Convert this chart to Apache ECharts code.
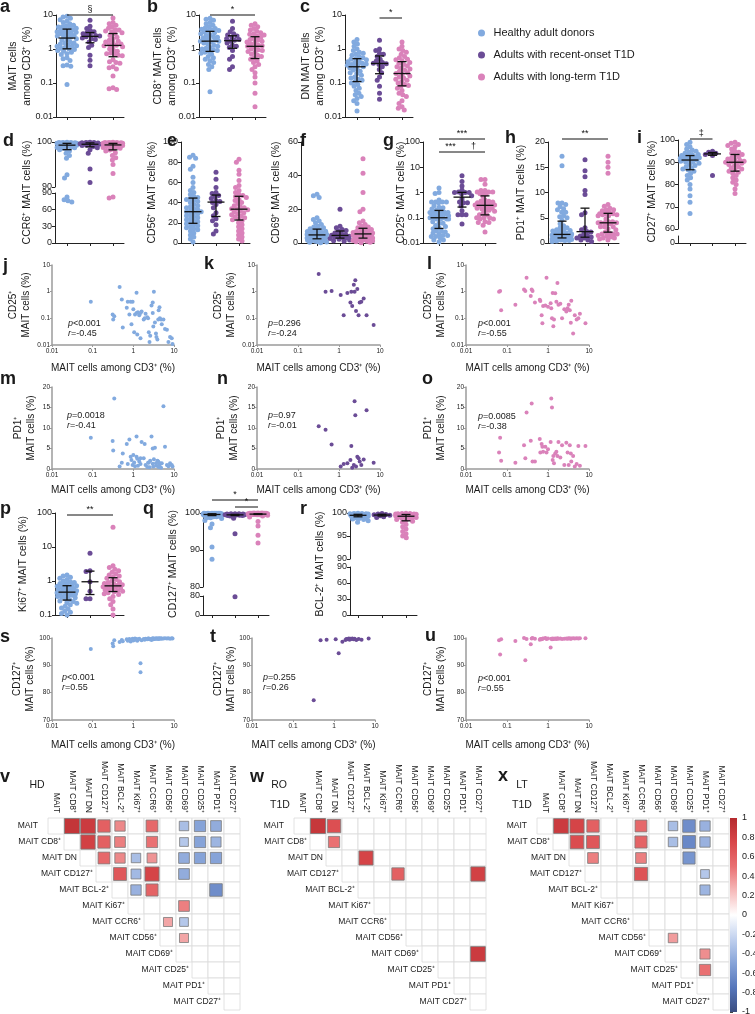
<!DOCTYPE html>
<html><head><meta charset="utf-8">
<script src="https://cdn.jsdelivr.net/npm/echarts@6/dist/echarts.min.js"></script>
<style>html,body{margin:0;padding:0;background:#fff}#c{width:755px;height:1014px}</style>
</head><body><div id="c"></div>
<script>
// ---------------- DATA ----------------
const groupNames = ['Healthy adult donors','Adults with recent-onset T1D','Adults with long-term T1D'];

// donors (aligned by index within each group)
const hdMait  = [0.09,0.31,0.32,0.34,0.46,0.52,0.55,0.69,0.73,0.80,0.86,0.90,0.96,1.0,1.05,1.1,1.2,1.2,1.25,1.3,1.4,1.5,1.5,2.5,1.6,2.3,1.8,1.9,2.0,2.2,2.4,2.6,2.8,3.0,3.0,3.1,3.2,3.4,3.6,3.7,3.9,4.1,4.2,4.4,4.5,4.8,5.0,5.5,6.0,6.7,7.3,8.0,8.8,9.2];
const hdCD25  = [0.42,0.14,0.09,0.12,1.5,0.51,0.045,0.25,0.42,0.14,0.42,0.06,0.42,0.22,0.03,0.14,0.92,0.16,0.025,0.17,0.13,0.16,0.018,0.013,0.18,0.10,0.09,0.10,0.15,0.11,0.03,0.022,0.30,0.39,0.16,0.049,1.0,0.07,0.027,0.02,0.016,0.09,0.20,0.26,0.10,0.09,0.06,0.09,0.04,0.037,0.013,0.02,0.018,0.011];
const hdPD1   = [7.6,6.8,4.5,17.2,0.6,1.5,3.8,6.1,1.2,7.2,3.0,2.2,1.0,3.4,1.6,0.7,7.9,3.0,2.5,0.8,1.8,2.6,1.2,0.4,6.6,1.5,2.6,6.1,1.0,0.5,1.6,2.0,7.9,5.0,1.3,0.6,2.4,5.2,1.4,0.8,2.0,1.8,0.5,1.0,1.4,0.3,1.4,15.3,5.4,1.0,0.7,1.4,1.0,0.6];
const hdCD127 = [96.0,98.0,97.0,99.2,98.5,99.3,98.8,99.5,99.0,99.6,98.7,99.4,99.7,99.1,99.5,99.8,99.3,99.6,99.0,99.4,99.7,90.8,87.5,99.5,99.2,99.8,99.6,99.4,99.7,99.5,99.8,99.6,99.3,99.7,99.9,99.5,99.8,99.6,99.9,99.7,99.8,99.6,99.9,99.7,99.8,99.9,99.7,99.8,99.9,99.8,99.9,99.7,99.9,99.8];

const roMait  = [0.32,0.47,0.66,1.1,1.3,1.6,1.9,2.0,2.1,2.3,2.4,2.5,2.6,2.8,3.0,3.2,3.5,4.0,4.7,7.0];
const roCD25  = [4.6,1.0,1.05,0.75,0.13,0.9,0.39,1.0,0.29,1.8,1.0,2.7,0.19,1.25,0.13,0.39,0.42,0.56,0.13,0.056];
const roPD1   = [10.4,9.6,6.0,0.6,1.2,1.4,2.2,5.6,0.3,1.0,16.5,13.1,0.6,3.0,2.6,1.8,1.0,2.3,14.3,1.5];
const roCD127 = [77.2,99.2,99.4,99.5,94.4,98.6,99.3,99.6,99.5,99.8,99.4,99.7,99.6,99.8,99.5,99.7,99.3,99.6,99.4,99.8];

const ltMait  = [0.064,0.068,0.072,0.16,0.26,0.28,0.30,0.38,0.40,0.42,0.48,0.63,0.65,0.70,0.73,0.76,0.86,0.92,1.0,1.16,1.2,1.25,1.3,1.35,1.4,1.5,1.6,1.7,1.8,2.0,2.2,2.5,2.8,3.0,3.2,3.4,3.6,3.7,4.1,4.5,5.0,5.5,6.0,8.2];
const ltCD25  = [1.0,1.05,0.20,0.32,1.2,1.05,3.3,0.69,1.2,1.05,0.39,0.50,0.45,0.13,0.065,0.29,0.3,3.3,0.27,0.37,0.24,0.1,0.9,0.05,0.09,0.87,0.42,2.1,0.32,0.35,0.1,0.22,0.18,0.24,0.32,0.2,0.069,0.46,0.027,0.13,0.09,0.1,0.15,0.065];
const ltPD1   = [4.0,7.6,2.0,1.5,5.8,2.6,13.8,6.9,16.0,1.8,1.8,7.3,4.0,6.1,5.4,4.2,5.4,4.0,4.8,6.6,17.2,15.0,2.2,3.2,1.4,3.8,4.2,3.2,6.6,2.8,5.8,1.0,6.4,4.0,1.0,5.8,3.8,1.8,3.2,0.6,1.2,5.6,0.8,5.6];
const ltCD127 = [99.2,94.0,99.5,98.9,100,91.9,99.6,97.7,99.8,100,99.7,99.4,99.6,99.5,99.7,99.8,100,99.6,99.8,96.5,99.7,99.5,99.8,99.6,99.7,99.8,99.6,99.9,99.7,99.8,99.6,99.7,99.8,99.7,99.9,99.8,99.7,99.8,99.9,99.8,99.9,99.8,99.9,99.9];

// other dot-plot panels
const hdCD8 = [8.0,7.5,7.0,6.0,5.5,5.0,4.5,4.2,4.0,3.8,3.6,3.5,3.3,3.2,3.0,2.8,2.6,2.5,2.3,2.2,2.1,2.0,1.9,1.8,1.7,1.7,1.6,1.5,1.4,1.3,1.2,1.1,1.05,1.0,0.95,0.9,0.85,0.8,0.75,0.7,0.6,0.55,0.5,0.45,0.4,0.35,0.3,0.25,0.055];
const roCD8 = [6.5,4.0,3.2,2.8,2.6,2.4,2.2,2.0,1.9,1.8,1.7,1.5,1.3,1.2,1.1,0.9,0.6,0.5,0.3,0.25];
const ltCD8 = [5.5,5.0,4.5,4.0,3.6,3.3,3.0,2.8,2.7,2.6,2.4,2.2,2.0,1.9,1.8,1.7,1.6,1.5,1.4,1.3,1.25,1.2,1.1,1.0,0.95,0.9,0.85,0.8,0.7,0.65,0.6,0.55,0.5,0.45,0.4,0.35,0.3,0.25,0.2,0.15,0.1,0.05,0.02];

const hdDN = [1.9,1.6,1.4,1.2,1.0,0.9,0.8,0.75,0.7,0.65,0.6,0.55,0.52,0.5,0.48,0.45,0.42,0.4,0.38,0.36,0.35,0.34,0.33,0.32,0.3,0.28,0.26,0.24,0.22,0.2,0.19,0.17,0.15,0.14,0.13,0.12,0.11,0.1,0.09,0.08,0.07,0.06,0.05,0.045,0.04,0.035,0.03,0.025,0.015];
const roDN = [1.8,1.0,0.9,0.75,0.7,0.6,0.5,0.45,0.4,0.38,0.37,0.35,0.3,0.25,0.2,0.15,0.12,0.08,0.05,0.033];
const ltDN = [1.6,1.2,1.0,0.9,0.8,0.7,0.6,0.55,0.5,0.48,0.45,0.4,0.38,0.35,0.32,0.3,0.28,0.26,0.24,0.22,0.2,0.19,0.18,0.16,0.15,0.14,0.13,0.12,0.11,0.1,0.09,0.085,0.08,0.07,0.06,0.05,0.045,0.04,0.03,0.025,0.02,0.018,0.016];

const hdCCR6 = [99.95,99.9,99.9,99.9,99.85,99.8,99.8,99.8,99.75,99.7,99.7,99.65,99.6,99.6,99.55,99.5,99.5,99.45,99.4,99.4,99.3,99.3,99.2,99.1,99.0,98.9,98.8,98.7,98.6,98.5,98.3,98.0,97.5,97.0,96.4,92.7,92.0,83.0,78.0,76.0,74.0];
const roCCR6 = [99.95,99.9,99.9,99.85,99.8,99.8,99.7,99.6,99.6,99.5,99.5,99.4,99.3,99.2,99.0,98.7,98.3,97.5,94.0,91.0];
const ltCCR6 = [99.95,99.9,99.9,99.9,99.85,99.85,99.8,99.8,99.75,99.7,99.7,99.65,99.6,99.6,99.55,99.5,99.5,99.4,99.4,99.3,99.3,99.2,99.1,99.0,98.9,98.8,98.6,98.4,98.2,98.0,97.6,97.0,96.5,96.0,95.0,93.0,83.0,81.0];

const hdCD56 = [87,85,84,76,73,65,60,55,52,50,48,46,45,44,43,42,41,40,38,37,36,35,34,33,32,31,31,30,29,28,27,26,25,24,23,22,21,20,19,18,17,16,15,14,13,12,10,8,6,4,1];
const roCD56 = [70,63,55,50,49,47,46,44,42,41,40,38,35,30,27,24,22,18,12,9];
const ltCD56 = [83,80,72,68,62,57,55,52,50,48,47,46,45,43,42,40,39,37,36,35,34,34,33,32,31,30,29,28,27,26,25,24,23,22,20,18,16,14,12,10,8,6,4,2];

const hdCD69 = [29,28,27,15,14,13,12,11,10,9.5,9,8.5,8,7.5,7,6.8,6.5,6.2,6,5.8,5.5,5.2,5,4.8,4.6,4.4,4.2,4,3.8,3.6,3.4,3.2,3,2.8,2.6,2.4,2.2,2,1.8,1.6,1.4,1.2,1,0.8,0.6,0.4,0.2];
const roCD69 = [20,10,9,8,7.5,7,6,5.5,5,4.6,4.4,4,3.6,3.2,3,2.6,2.2,1.8,1.4,1.0];
const ltCD69 = [50,41.5,30,20,18.5,13,12,11,10,9.5,9,8.5,8,7.5,7,6.8,6.5,6.2,6,5.8,5.6,5.4,5.2,5,4.8,4.5,4.2,4,3.8,3.5,3.2,3,2.8,2.5,2.2,2,1.8,1.5,1.2,1,0.8,0.5,0.2];

const hdCD27 = [99,98,97,96,95.5,95,94.5,94,93.5,93.5,93,93,92.5,92.5,92,92,91.8,91.5,91.5,91.2,91,91,90.5,90,90,89.5,89,88.5,88,87.5,87,86.5,86,85,84,83,82,80,78,75,72,67];
const roCD27 = [95,94.5,94,93.5,93,84];
const ltCD27 = [99,98.5,98,97.5,97,96,95,94.5,94,93.5,93,92.5,92,91.5,91,90.8,90.5,90.2,90,89.8,89.5,89,88.5,88,87.5,87,86.5,86,85.5,85,84,83,82,81,80,78,76];

const hdKi67 = [1.5,1.4,1.3,1.2,1.1,1.0,0.95,0.9,0.85,0.85,0.8,0.75,0.72,0.7,0.68,0.65,0.62,0.6,0.58,0.55,0.52,0.5,0.5,0.48,0.46,0.45,0.43,0.42,0.4,0.38,0.36,0.35,0.33,0.32,0.3,0.28,0.26,0.25,0.23,0.22,0.2,0.18,0.16,0.15,0.13,0.12,0.11,0.1];
const roKi67 = [6.5,2.0,1.9,0.95,0.5,0.3,0.3];
const ltKi67 = [38,2.8,2.5,2.2,2.0,1.8,1.6,1.5,1.4,1.3,1.2,1.1,1.0,0.95,0.9,0.85,0.8,0.78,0.75,0.72,0.7,0.68,0.65,0.62,0.6,0.58,0.55,0.52,0.5,0.48,0.45,0.42,0.4,0.35,0.3,0.25,0.2,0.15,0.1];

const hdBCL2 = [99.95,99.9,99.9,99.85,99.85,99.8,99.8,99.8,99.75,99.75,99.7,99.7,99.7,99.65,99.6,99.6,99.6,99.55,99.5,99.5,99.5,99.45,99.4,99.4,99.35,99.3,99.3,99.25,99.2,99.2,99.1,99.0,99.0,98.9,98.8,98.7,98.6,98.5,98.3,98.0];
const roBCL2 = [99.9,99.8,99.7,99.6,99.5,99.4,99.2,99.0];
const ltBCL2 = [99.95,99.9,99.9,99.85,99.8,99.8,99.75,99.7,99.7,99.65,99.6,99.6,99.5,99.5,99.45,99.4,99.4,99.3,99.3,99.2,99.1,99.0,98.9,98.8,98.6,98.4,98.2,98.0,97.5,97.0,96.5,96.0,95.5,95.0,94.6];

// correlation matrices: [row, col, r]
const corrLabels = ['MAIT','MAIT CD8⁺','MAIT DN','MAIT CD127⁺','MAIT BCL-2⁺','MAIT Ki67⁺','MAIT CCR6⁺','MAIT CD56⁺','MAIT CD69⁺','MAIT CD25⁺','MAIT PD1⁺','MAIT CD27⁺'];
const corrHD = [[0,1,0.9],[0,2,0.85],[0,3,0.6],[0,4,0.42],[0,6,0.55],[0,8,-0.35],[0,9,-0.5],[0,10,-0.45],
  [1,2,0.8],[1,3,0.6],[1,4,0.45],[1,6,0.5],[1,8,-0.3],[1,9,-0.5],[1,10,-0.4],
  [2,3,0.55],[2,4,0.42],[2,5,-0.35],[2,6,0.38],[2,8,-0.45],[2,9,-0.5],[2,10,-0.5],
  [3,4,0.65],[3,5,-0.38],[3,6,0.78],[3,8,-0.45],
  [4,5,-0.42],[4,6,0.58],[4,10,-0.62],
  [5,8,0.45],[6,7,0.32],[6,8,-0.3],[7,8,0.32]];
const corrRO = [[0,1,0.88],[0,2,0.7],[1,2,0.5],[2,4,0.78],[3,6,0.6],[3,11,0.8],[8,11,0.85]];
const corrLT = [[0,1,0.85],[0,2,0.78],[0,3,0.6],[0,6,0.55],[0,8,-0.35],[0,9,-0.62],[0,10,-0.42],
  [1,2,0.72],[1,3,0.65],[1,6,0.58],[1,8,-0.35],[1,9,-0.65],[1,10,-0.42],
  [2,3,0.45],[2,6,0.45],[2,9,-0.58],[3,6,0.68],[3,10,-0.3],[4,10,-0.4],
  [7,8,0.35],[8,10,0.4],[9,10,0.5]];

// ---------------- STYLE / LAYOUT ----------------
const FONT = "'Liberation Sans', Arial, Helvetica, sans-serif";
const TXT = '#1a1a1a';
const groupColors = ['#82aadf','#6b4c96','#da82ba'];
const corrColors = ['#3a4d80','#5676bb','#86a3d8','#c0d0ee','#ffffff','#f6baba','#e97072','#d9474a','#b52a2e'];
const DOT = 5, DOT_D = 4;

const grids=[], xAxes=[], yAxes=[], series=[], graphics=[];
function addGrid(rect, xa, ya){
  const gi = grids.length;
  grids.push({left:rect[0], top:rect[1], width:rect[2], height:rect[3], containLabel:false, outerBoundsMode:'none'});
  xAxes.push(Object.assign({gridIndex:gi, nameMoveOverlap:false}, xa));
  yAxes.push(Object.assign({gridIndex:gi, nameMoveOverlap:false}, ya));
  return gi;
}
function logFmt(v){ return String(+Number(v).toPrecision(3)); }
function quartiles(arr){
  const s=[...arr].sort((a,b)=>a-b);
  const q=p=>{const pos=(s.length-1)*p, lo=Math.floor(pos), hi=Math.ceil(pos); return s[lo]+(s[hi]-s[lo])*(pos-lo);};
  return [q(0.25), q(0.5), q(0.75)];
}
function swarm(ys, D, maxOff){
  const n=ys.length, order=ys.map((y,i)=>i).sort((a,b)=>ys[a]-ys[b]||a-b);
  const placed=[], off=new Array(n).fill(0);
  order.forEach(i=>{
    const y=ys[i];
    const near=placed.filter(p=>Math.abs(p.y-y)<D);
    const cands=[0];
    near.forEach(p=>{const dx=Math.sqrt(D*D-(p.y-y)*(p.y-y))+0.01; cands.push(p.x-dx,p.x+dx);});
    cands.sort((a,b)=>Math.abs(a)-Math.abs(b));
    let best=null;
    for(const c of cands){
      if(Math.abs(c)>maxOff) continue;
      if(near.every(p=>(p.x-c)*(p.x-c)+(p.y-y)*(p.y-y)>=D*D-0.02)){best=c;break;}
    }
    if(best===null){
      let bd=-1;
      for(let c=-maxOff;c<=maxOff+1e-9;c+=0.5){
        let md=Infinity; near.forEach(p=>{md=Math.min(md,Math.hypot(p.x-c,p.y-y));});
        if(md>bd){bd=md;best=c;}
      }
    }
    off[i]=best; placed.push({x:best,y:y});
  });
  return off;
}
function txt(text, x, y, o){
  o=o||{};
  graphics.push({type:'text', x:x, y:y, rotation:o.rot||0, silent:true, z:50,
    style:Object.assign({text:text, fill:TXT, font:(o.font||'10px '+FONT), align:o.align||'left', textAlign:o.align||'left',
      verticalAlign:o.va||'middle', textVerticalAlign:o.va||'middle'}, o.extra||{})});
}

// ---------- dot plot panels ----------
function dotPanel(P){
  const sp=P.sp, xmin=1-(P.g1-P.axisX)/sp, xmax=3+11/sp, width=(xmax-xmin)*sp;
  const segs = P.brk ? [
    {top:P.top, bottom:P.brk.topEnd, type:'value', min:P.brk.topMin, max:P.max, interval:P.interval, last:false},
    {top:P.brk.botStart, bottom:P.bottom, type:'value', min:0, max:P.brk.botMax, interval:P.brk.botInterval, last:true}
  ] : [{top:P.top, bottom:P.bottom, type:P.type, min:P.min, max:P.max, interval:P.interval, last:true}];
  segs.forEach(s=>{
    const ya={type:s.type, min:s.min, max:s.max,
      axisLine:{show:true, lineStyle:{color:'#222', width:1}},
      axisTick:{show:true, length:3, lineStyle:{color:'#222'}},
      axisLabel:{fontSize:9, color:TXT, margin:3, fontFamily:FONT, showMinLabel:true, showMaxLabel:true},
      splitLine:{show:false}};
    if(s.type==='log'){ ya.logBase=10; ya.axisLabel.formatter=logFmt; } else ya.interval=s.interval;
    if(!P.brk && P.name) Object.assign(ya,{name:P.name, nameLocation:'middle', nameGap:P.nameGap,
      nameTextStyle:{fontSize:10.5, color:TXT, fontFamily:FONT, lineHeight:14}});
    const xa={type:'value', min:xmin, max:xmax,
      axisLine:{show:s.last, lineStyle:{color:'#222', width:1}},
      axisTick:{show:s.last, length:3, customValues:[1,2,3], lineStyle:{color:'#222'}},
      axisLabel:{show:false}, splitLine:{show:false}};
    s.gi=addGrid([P.axisX, s.top, width, s.bottom-s.top], xa, ya);
  });
  P.groups.forEach((vals,g)=>{
    segs.forEach((s,si)=>{
      const inSeg = vals.filter(v=> !P.brk ? true : (si===0 ? v>=segs[0].min : v<segs[0].min));
      if(!inSeg.length) return;
      const h=s.bottom-s.top;
      const ys=inSeg.map(v=> s.type==='log'
        ? s.top+(Math.log10(s.max)-Math.log10(v))/(Math.log10(s.max)-Math.log10(s.min))*h
        : s.top+(s.max-v)/(s.max-s.min)*h);
      const off=swarm(ys, DOT_D, sp*0.43);
      series.push({type:'scatter', name:groupNames[g], xAxisIndex:s.gi, yAxisIndex:s.gi, symbolSize:DOT, silent:true, z:2,
        itemStyle:{color:groupColors[g], opacity:1}, data:inSeg.map((v,k)=>[g+1+off[k]/sp, v])});
    });
  });
  const top=segs[0];
  series.push({type:'custom', xAxisIndex:top.gi, yAxisIndex:top.gi, z:5, silent:true, clip:false,
    data:P.groups.map((vals,g)=>{const q=quartiles(vals); return [g+1,q[0],q[1],q[2]];}),
    renderItem:(params,api)=>{
      const x=api.value(0);
      const a=api.coord([x,api.value(1)]), m=api.coord([x,api.value(2)]), b=api.coord([x,api.value(3)]);
      const st=()=>({stroke:'#111', lineWidth:1.3});
      return {type:'group', children:[
        {type:'line', shape:{x1:m[0]-8.5,y1:m[1],x2:m[0]+8.5,y2:m[1]}, style:st()},
        {type:'line', shape:{x1:a[0],y1:a[1],x2:b[0],y2:b[1]}, style:st()},
        {type:'line', shape:{x1:a[0]-4.5,y1:a[1],x2:a[0]+4.5,y2:a[1]}, style:st()},
        {type:'line', shape:{x1:b[0]-4.5,y1:b[1],x2:b[0]+4.5,y2:b[1]}, style:st()}]};
    }});
  if(P.brackets){
    series.push({type:'custom', xAxisIndex:top.gi, yAxisIndex:top.gi, z:6, silent:true, clip:false,
      data:P.brackets.map(b=>[b[0],top.max]),
      renderItem:(params,api)=>{
        const b=P.brackets[params.dataIndex];
        const p1=api.coord([b[0],top.max]), p2=api.coord([b[1],top.max]);
        const y=p1[1]+b[2];
        return {type:'group', children:[
          {type:'line', shape:{x1:p1[0],y1:y,x2:p2[0],y2:y}, style:{stroke:'#111', lineWidth:1}},
          {type:'text', x:(p1[0]+p2[0])/2, y:y-0.5, style:{text:b[3], fill:'#111', font:'9px '+FONT,
            align:'center', textAlign:'center', verticalAlign:'bottom', textVerticalAlign:'bottom'}}]};
      }});
  }
  if(P.brk && P.name) txt(P.name, P.titleX, (P.top+P.bottom)/2, {rot:Math.PI/2, align:'center', font:'10.5px '+FONT});
}

// ---------- scatter panels ----------
function scatterPanel(S){
  const gray='#9b9b9b';
  const ya={type:S.yType, min:S.ymin, max:S.ymax,
    axisLine:{show:true, lineStyle:{color:gray, width:1.5}},
    axisTick:{show:true, length:2, lineStyle:{color:gray}},
    axisLabel:{fontSize:6.5, color:TXT, margin:2, fontFamily:FONT},
    splitLine:{show:false},
    name:S.yName, nameLocation:'middle', nameGap:S.yGap,
    nameTextStyle:{fontSize:10, color:TXT, fontFamily:FONT, lineHeight:13}};
  if(S.yType==='log'){ ya.logBase=10; ya.axisLabel.formatter=logFmt; } else ya.interval=S.yInt;
  const xa={type:'log', logBase:10, min:0.01, max:10,
    axisLine:{show:true, lineStyle:{color:gray, width:1.5}},
    axisTick:{show:true, length:2, lineStyle:{color:gray}},
    axisLabel:{fontSize:6.5, color:TXT, margin:3, fontFamily:FONT, formatter:logFmt},
    splitLine:{show:false},
    name:'MAIT cells among CD3⁺ (%)', nameLocation:'middle', nameGap:S.xGap,
    nameTextStyle:{fontSize:10, color:TXT, fontFamily:FONT}};
  const gi=addGrid(S.rect, xa, ya);
  series.push({type:'scatter', name:groupNames[S.g], xAxisIndex:gi, yAxisIndex:gi, symbolSize:4, silent:true,
    itemStyle:{color:groupColors[S.g], opacity:1}, data:S.xs.map((x,i)=>[x,S.ys[i]])});
  txt('{i|p}{n|'+S.ann[2]+'}\n{i|r}{n|'+S.ann[3]+'}', S.ann[0], S.ann[1], {va:'top',
    extra:{rich:{i:{fontStyle:'italic', fontSize:9, fontFamily:FONT, lineHeight:10.5, fill:TXT},
                 n:{fontSize:9, fontFamily:FONT, lineHeight:10.5, fill:TXT}}}});
}

// ---------- correlation panels ----------
const squareSeries=[];
function corrPanel(M){
  const n=corrLabels.length, cs=16;
  const xa={type:'category', data:corrLabels, position:'top', axisLine:{show:false}, axisTick:{show:false},
    axisLabel:{rotate:90, fontSize:8.5, color:TXT, margin:5, fontFamily:FONT, interval:0}, splitLine:{show:false}};
  const ya={type:'category', data:corrLabels, inverse:true, show:false};
  const gi=addGrid([M.left, M.top, cs*n, cs*n], xa, ya);
  const cells=[]; for(let i=0;i<n;i++) for(let j=i;j<n;j++) cells.push([j,i]);
  series.push({type:'custom', xAxisIndex:gi, yAxisIndex:gi, silent:true, z:1, data:cells,
    renderItem:(p,api)=>{const c=api.coord([api.value(0),api.value(1)]), s=api.size([1,1]);
      return {type:'rect', shape:{x:c[0]-s[0]/2, y:c[1]-s[1]/2, width:s[0], height:s[1]}, style:{fill:'#fff', stroke:'#dadada', lineWidth:0.8}};}});
  series.push({type:'custom', xAxisIndex:gi, yAxisIndex:gi, silent:true, z:3, clip:false, data:corrLabels.map((l,i)=>[i,i]),
    renderItem:(p,api)=>{const c=api.coord([api.value(0),api.value(1)]), s=api.size([1,1]);
      const gap = p.dataIndex===0 ? 10 : 3;
      return {type:'text', x:c[0]-s[0]/2-gap, y:c[1], style:{text:corrLabels[p.dataIndex], fill:TXT, font:'8.5px '+FONT,
        align:'right', textAlign:'right', verticalAlign:'middle', textVerticalAlign:'middle'}};}});
  squareSeries.push(series.length);
  series.push({type:'custom', xAxisIndex:gi, yAxisIndex:gi, silent:true, z:4, data:M.cells.map(c=>[c[1],c[0],c[2]]),
    encode:{x:0, y:1},
    renderItem:(p,api)=>{const c=api.coord([api.value(0),api.value(1)]); const r=api.value(2);
      const sz=Math.min(15, 16*Math.sqrt(Math.abs(r)));
      return {type:'rect', shape:{x:c[0]-sz/2, y:c[1]-sz/2, width:sz, height:sz}, style:{fill:api.visual('color'), stroke:'#7a7a7a', lineWidth:0.8}};}});
  M.heads.forEach(h=>txt(h[0], h[1], h[2], {align:'center', font:'10.5px '+FONT}));
}

// ---------------- BUILD ----------------
dotPanel({axisX:56, g1:67, sp:23, top:15, bottom:117, type:'log', min:0.01, max:10, groups:[hdMait,roMait,ltMait],
  name:'MAIT cells\namong CD3⁺ (%)', nameGap:22, brackets:[[1,3,0,'§']]});
dotPanel({axisX:199, g1:210, sp:22.5, top:15, bottom:117, type:'log', min:0.01, max:10, groups:[hdCD8,roCD8,ltCD8],
  name:'CD8⁺ MAIT cells\namong CD3⁺ (%)', nameGap:20, brackets:[[1,3,0,'*']]});
dotPanel({axisX:345, g1:357, sp:22.5, top:15, bottom:117, type:'log', min:0.01, max:10, groups:[hdDN,roDN,ltDN],
  name:'DN MAIT cells\namong CD3⁺ (%)', nameGap:18, brackets:[[2,3,3,'*']]});

dotPanel({axisX:55, g1:67, sp:23, top:142, bottom:243, max:100, interval:10,
  brk:{topEnd:187, botStart:193, topMin:90, botMax:90, botInterval:30}, groups:[hdCCR6,roCCR6,ltCCR6],
  name:'CCR6⁺ MAIT cells (%)', titleX:27});
dotPanel({axisX:181, g1:193, sp:23, top:142, bottom:243, type:'value', min:0, max:100, interval:20, groups:[hdCD56,roCD56,ltCD56],
  name:'CD56⁺ MAIT cells (%)', nameGap:22});
dotPanel({axisX:301, g1:317, sp:23, top:142, bottom:243, type:'value', min:0, max:60, interval:20, groups:[hdCD69,roCD69,ltCD69],
  name:'CD69⁺ MAIT cells (%)', nameGap:18});
dotPanel({axisX:423, g1:439, sp:23, top:142, bottom:243, type:'log', min:0.01, max:100, groups:[hdCD25,roCD25,ltCD25],
  name:'CD25⁺ MAIT cells (%)', nameGap:15, brackets:[[1,3,-3,'***'],[1,2,10,'***'],[2,3,10,'†']]});
dotPanel({axisX:548, g1:562, sp:23, top:142, bottom:243, type:'value', min:0, max:20, interval:5, groups:[hdPD1,roPD1,ltPD1],
  name:'PD1⁺ MAIT cells (%)', nameGap:20, brackets:[[1,3,-3,'**']]});
dotPanel({axisX:678, g1:690, sp:22.5, top:140, bottom:243, max:100, interval:10,
  brk:{topEnd:229, botStart:236, topMin:60, botMax:50, botInterval:50}, groups:[hdCD27,roCD27,ltCD27],
  name:'CD27⁺ MAIT cells (%)', titleX:652, brackets:[[1,2,-1,'‡']]});

dotPanel({axisX:55, g1:67, sp:23, top:513, bottom:615, type:'log', min:0.1, max:100, groups:[hdKi67,roKi67,ltKi67],
  name:'Ki67⁺ MAIT cells (%)', nameGap:25, brackets:[[1,3,2,'**']]});
dotPanel({axisX:203, g1:212, sp:23, top:513, bottom:615, max:100, interval:10,
  brk:{topEnd:587, botStart:596, topMin:80, botMax:80, botInterval:80}, groups:[hdCD127,roCD127,ltCD127],
  name:'CD127⁺ MAIT cells (%)', titleX:173, brackets:[[1,3,-13,'*'],[2,3,-6,'*']]});
dotPanel({axisX:350, g1:358, sp:24, top:513, bottom:615, max:100, interval:5,
  brk:{topEnd:559, botStart:567, topMin:90, botMax:90, botInterval:30}, groups:[hdBCL2,roBCL2,ltBCL2],
  name:'BCL-2⁺ MAIT cells (%)', titleX:320});

const yCD25='CD25⁺\nMAIT cells (%)', yPD1='PD1⁺\nMAIT cells (%)', yCD127='CD127⁺\nMAIT cells (%)';
scatterPanel({rect:[52,265,122,80], g:0, xs:hdMait, ys:hdCD25, yType:'log', ymin:0.01, ymax:10, yName:yCD25, yGap:19, xGap:18, ann:[68,318,'<0.001','=-0.45']});
scatterPanel({rect:[257,265,123,80], g:1, xs:roMait, ys:roCD25, yType:'log', ymin:0.01, ymax:10, yName:yCD25, yGap:19, xGap:18, ann:[268,318,'=0.296','=-0.24']});
scatterPanel({rect:[466,265,123,80], g:2, xs:ltMait, ys:ltCD25, yType:'log', ymin:0.01, ymax:10, yName:yCD25, yGap:18, xGap:18, ann:[478,318,'<0.001','=-0.55']});
scatterPanel({rect:[52,387,122,82], g:0, xs:hdMait, ys:hdPD1, yType:'value', ymin:0, ymax:20, yInt:5, yName:yPD1, yGap:14, xGap:16, ann:[67,410,'=0.0018','=-0.41']});
scatterPanel({rect:[257,387,123,82], g:1, xs:roMait, ys:roPD1, yType:'value', ymin:0, ymax:20, yInt:5, yName:yPD1, yGap:16, xGap:16, ann:[268,410,'=0.97','=-0.01']});
scatterPanel({rect:[466,387,123,82], g:2, xs:ltMait, ys:ltPD1, yType:'value', ymin:0, ymax:20, yInt:5, yName:yPD1, yGap:18, xGap:16, ann:[478,411,'=0.0085','=-0.38']});
scatterPanel({rect:[52,638,122,82], g:0, xs:hdMait, ys:hdCD127, yType:'value', ymin:70, ymax:100, yInt:10, yName:yCD127, yGap:15, xGap:20, ann:[62,672,'<0.001','=0.55']});
scatterPanel({rect:[252,638,123,82], g:1, xs:roMait, ys:roCD127, yType:'value', ymin:70, ymax:100, yInt:10, yName:yCD127, yGap:14, xGap:20, ann:[263,672,'=0.255','=0.26']});
scatterPanel({rect:[466,638,123,82], g:2, xs:ltMait, ys:ltCD127, yType:'value', ymin:70, ymax:100, yInt:10, yName:yCD127, yGap:18, xGap:20, ann:[478,673,'<0.001','=0.55']});

corrPanel({left:48, top:818, cells:corrHD, heads:[['HD',37,785]]});
corrPanel({left:294, top:818, cells:corrRO, heads:[['RO',279,785],['T1D',280,805]]});
corrPanel({left:537, top:818, cells:corrLT, heads:[['LT',522,785],['T1D',522,805]]});

// colour bar
(function(){
  const gi=addGrid([730,818,7,194], {type:'value', min:0, max:1, show:false},
    {type:'value', min:-1, max:1, interval:0.2, position:'right', axisLine:{show:false},
     axisTick:{show:true, length:3, lineStyle:{color:'#444'}},
     axisLabel:{fontSize:9, color:TXT, margin:5, fontFamily:FONT, formatter:v=>{const r=Math.round(v*10)/10; return r===0?'0':String(r);}},
     splitLine:{show:false}});
  series.push({type:'custom', xAxisIndex:gi, yAxisIndex:gi, silent:true, data:[[0,1]],
    renderItem:(p,api)=>{const a=api.coord([0,1]), b=api.coord([1,-1]);
      const stops=corrColors.slice().reverse().map((c,i)=>({offset:i/(corrColors.length-1), color:c}));
      return {type:'rect', shape:{x:a[0], y:a[1], width:b[0]-a[0], height:b[1]-a[1]},
        style:{fill:new echarts.graphic.LinearGradient(0,0,0,1,stops)}};}});
})();

// panel letters
const letters=[['a',0,13],['b',147,13],['c',300,13],['d',3,147],['e',167,147],['f',300,147],['g',383,147],['h',505,144],['i',637,144],
  ['j',3,272],['k',204,270],['l',427,270],['m',0,385],['n',217,385],['o',422,385],['p',0,515],['q',143,515],['r',300,515],
  ['s',0,643],['t',210,643],['u',425,642],['v',0,783],['w',250,783],['x',498,782]];
letters.forEach(l=>txt(l[0], l[1], l[2]-6.3, {font:'bold 18px '+FONT}));

const chart=echarts.init(document.getElementById('c'), null, {renderer:'canvas', width:755, height:1014});
chart.setOption({
  animation:false,
  backgroundColor:'#fff',
  textStyle:{fontFamily:FONT},
  legend:{data:groupNames, orient:'vertical', left:478, top:27, itemWidth:14, itemHeight:7, itemGap:10, icon:'circle',
    selectedMode:false, padding:0, textStyle:{fontSize:11, color:TXT, fontFamily:FONT, lineHeight:12}},
  visualMap:{show:false, type:'continuous', min:-1, max:1, dimension:2, seriesIndex:squareSeries, inRange:{color:corrColors}},
  grid:grids, xAxis:xAxes, yAxis:yAxes, series:series,
  graphic:{elements:graphics}
});
</script></body></html>
